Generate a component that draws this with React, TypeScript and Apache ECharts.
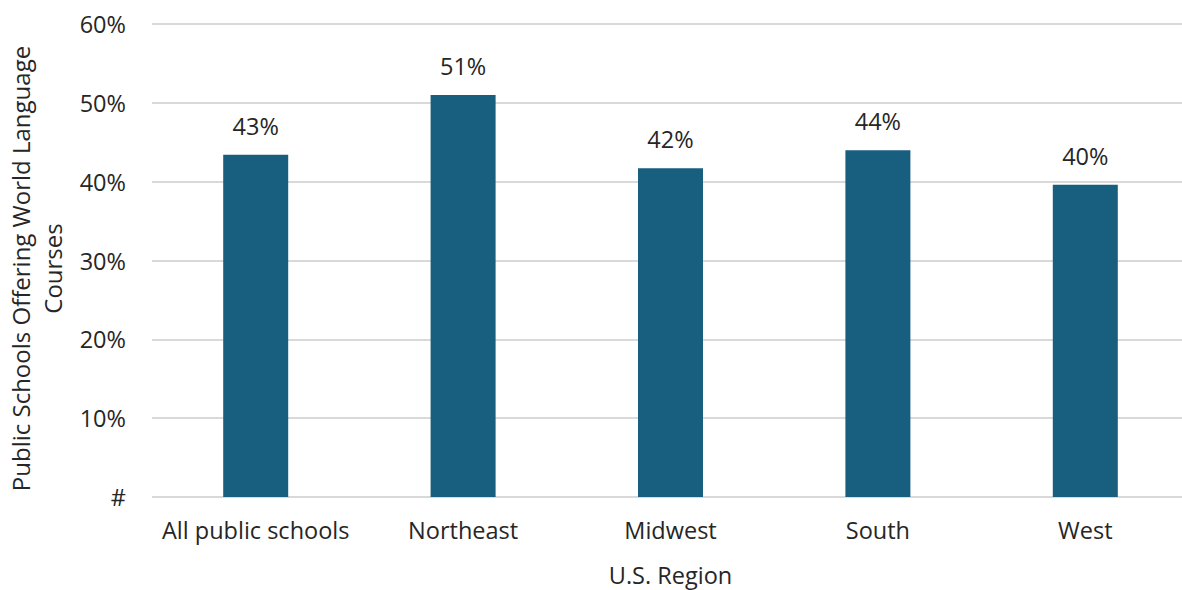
import React, { useEffect, useRef } from "react";
import * as echarts from "echarts";

const regions = ["All public schools", "Northeast", "Midwest", "South", "West"];
const shareOffering = [43.4, 51.0, 41.7, 44.0, 39.6];
const yTicks = [0, 10, 20, 30, 40, 50, 60];

const FONT = "'Open Sans', sans-serif";
const TEXT = "#262626";
const FS = 23.5;

export default function App() {
  const ref = useRef<HTMLDivElement>(null);

  useEffect(() => {
    document.body.style.margin = "0";
    document.documentElement.style.overflow = "hidden";
    const chart = echarts.init(ref.current!, null, { renderer: "svg" });
    chart.setOption({
      animation: false,
      backgroundColor: "#ffffff",
      grid: {
        left: 152,
        right: -7,
        top: 24,
        bottom: 93,
        containLabel: false,
        outerBoundsMode: "none",
      },
      xAxis: {
        type: "category",
        data: regions,
        name: "U.S. Region",
        nameLocation: "middle",
        nameGap: 66,
        nameTextStyle: { fontFamily: FONT, fontSize: FS, color: TEXT, lineHeight: 24 },
        axisLine: { show: false },
        axisTick: { show: false },
        axisLabel: { interval: 0, fontFamily: FONT, fontSize: FS, color: TEXT, margin: 21, lineHeight: 24 },
      },
      yAxis: {
        type: "value",
        min: yTicks[0],
        max: yTicks[yTicks.length - 1],
        interval: 10,
        name: "Public Schools Offering World Language\nCourses",
        nameLocation: "middle",
        nameGap: 83,
        nameTextStyle: {
          fontFamily: FONT,
          fontSize: 24,
          color: TEXT,
          lineHeight: 32,
          padding: [0, 16, 0, 0],
        },
        axisLine: { show: false },
        axisTick: { show: false },
        splitLine: { lineStyle: { color: "#d9d9d9", width: 2 } },
        axisLabel: {
          fontFamily: FONT,
          fontSize: FS,
          color: TEXT,
          margin: 26,
          formatter: (v: number) => (v === 0 ? "#" : `${v}%`),
        },
      },
      series: [
        {
          type: "bar",
          data: shareOffering,
          barWidth: 65,
          itemStyle: { color: "#175e7f" },
          label: {
            show: true,
            position: "top",
            distance: 17,
            fontFamily: FONT,
            fontSize: FS,
            lineHeight: 24,
            color: TEXT,
            formatter: (p: any) => `${Math.round(p.value)}%`,
          },
        },
      ],
    });
    return () => chart.dispose();
  }, []);

  return (
    <div
      ref={ref}
      style={{ position: "fixed", left: 0, top: 0, width: 1182, height: 590 }}
    />
  );
}
